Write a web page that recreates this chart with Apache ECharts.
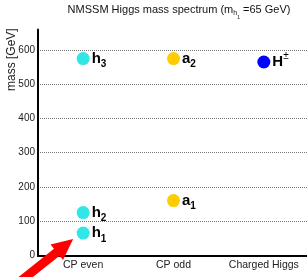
<!DOCTYPE html>
<html>
<head>
<meta charset="utf-8">
<script src="https://cdn.jsdelivr.net/npm/echarts@6/dist/echarts.min.js"></script>
<style>
  html, body { margin: 0; padding: 0; background: #fff; }
  #chart { width: 307px; height: 277px; }
</style>
</head>
<body>
<div id="chart"></div>
<script>
// mass spectrum
const categories = ['CP even', 'CP odd', 'Charged Higgs']
const evenMass = [65, 125, 575]
const evenIdx = ['1', '2', '3']
const oddMass = [160, 575]
const oddIdx = ['1', '2']
const chargedMass = [565]
const yTicks = [0, 100, 200, 300, 400, 500, 600]

const font = 'Liberation Sans'

const labelRich = {
  b: { fontFamily: font, fontSize: 15, fontWeight: 'bold', color: '#000' },
  s: { fontFamily: font, fontSize: 10, fontWeight: 'bold', color: '#000', padding: [12, 0, 0, 0] },
  u: { fontFamily: font, fontSize: 10, color: '#000', padding: [0, 0, 12, 0] },
}

function pointLabel(fmt) {
  return {
    show: true,
    position: 'right',
    distance: 2,
    formatter: fmt,
    rich: labelRich,
  }
}

const evenData = evenMass.map((v, i) => ({ value: ['CP even', v], idx: evenIdx[i] }))
const oddData = oddMass.map((v, i) => ({ value: ['CP odd', v], idx: oddIdx[i] }))
const chargedData = chargedMass.map(v => ({ value: ['Charged Higgs', v] }))

const option = {
  animation: false,
  title: {
    text: '{n|NMSSM Higgs mass spectrum (m}{h|h}{o|1}{n| =65 GeV)}',
    left: 174,
    textAlign: 'center',
    top: -6,
    textStyle: {
      fontWeight: 'normal',
      rich: {
        n: { fontFamily: font, fontSize: 11, fontWeight: 'normal', color: '#111' },
        h: { fontFamily: font, fontSize: 7, fontWeight: 'normal', color: '#111', padding: [8, 0, 0, 0] },
        o: { fontFamily: font, fontSize: 5, fontWeight: 'normal', color: '#111', padding: [16, 0, 0, 0] },
      },
    },
  },
  grid: { left: 38, top: 29.5, right: -2, bottom: 21.7, outerBoundsMode: 'none', containLabel: false },
  xAxis: [
    {
      type: 'category',
      data: categories,
      boundaryGap: true,
      axisLine: { lineStyle: { color: '#1a1a3a', width: 2 } },
      axisTick: { inside: true, length: 6, alignWithLabel: true, lineStyle: { color: '#000' } },
      axisLabel: { interval: 0, fontFamily: font, fontSize: 10.5, color: '#222', margin: 4 },
      splitLine: { show: false },
    },
    {
      type: 'category',
      data: categories,
      position: 'top',
      axisLine: { lineStyle: { color: '#000', width: 2 } },
      axisTick: { show: false },
      axisLabel: { show: false },
    },
  ],
  yAxis: [
    {
      type: 'value',
      min: 0,
      max: 660,
      interval: 100,
      axisLine: { show: true, lineStyle: { color: '#000', width: 2 } },
      axisTick: { inside: true, length: 7, lineStyle: { color: '#000' } },
      axisLabel: {
        fontFamily: font, fontSize: 10, color: '#222', margin: 3,
        formatter: v => (yTicks.includes(v) ? String(v) : ''),
      },
      splitLine: {
        show: true, showMinLine: false, showMaxLine: false,
        lineStyle: { color: '#777', type: 'dotted', width: 1 },
      },
    },
    {
      type: 'value',
      min: 0,
      max: 660,
      interval: 20,
      position: 'left',
      axisLine: { show: false },
      axisTick: { inside: true, length: 4, lineStyle: { color: '#000' } },
      axisLabel: { show: false },
      splitLine: { show: false },
    },
  ],
  graphic: [{
    type: 'text',
    x: 12,
    y: 91,
    rotation: Math.PI / 2,
    style: {
      text: 'mass [GeV]',
      font: '11.5px "Liberation Sans"',
      fill: '#222',
      align: 'left',
      verticalAlign: 'middle',
    },
  }],
  series: [
    {
      type: 'scatter',
      symbolSize: 13,
      itemStyle: { color: '#30e6e6', opacity: 1 },
      data: evenData,
      label: pointLabel(p => `{b|h}{s|${p.data.idx}}`),
    },
    {
      type: 'scatter',
      symbolSize: 13,
      itemStyle: { color: '#ffcc00', opacity: 1 },
      data: oddData,
      label: pointLabel(p => `{b|a}{s|${p.data.idx}}`),
    },
    {
      type: 'scatter',
      symbolSize: 13,
      itemStyle: { color: '#0000ff', opacity: 1 },
      data: chargedData,
      label: pointLabel(() => '{b|H}{u|±}'),
    },
  ],
}

const chart = echarts.init(document.getElementById('chart'), null, { renderer: 'canvas' })
chart.setOption(option)

// red arrow pointing at the lightest CP-even state
const h1 = chart.convertToPixel({ seriesIndex: 0 }, evenData[0].value)
const tip = [h1[0] - 10, h1[1] + 6]
const ux = 0.781, uy = -0.625   // direction tail -> tip
const nx = 0.625, ny = 0.781    // normal
const headLen = 21, headHalf = 10, shaftHalf = 4.5, shaftLen = 75
const base = [tip[0] - ux * headLen, tip[1] - uy * headLen]
const tail = [tip[0] - ux * shaftLen, tip[1] - uy * shaftLen]
chart.setOption({
  graphic: [{}, {
    type: 'polygon',
    z: 100,
    shape: {
      points: [
        tip,
        [base[0] + nx * headHalf, base[1] + ny * headHalf],
        [base[0] + nx * shaftHalf, base[1] + ny * shaftHalf],
        [tail[0] + nx * shaftHalf, tail[1] + ny * shaftHalf],
        [tail[0] - nx * shaftHalf, tail[1] - ny * shaftHalf],
        [base[0] - nx * shaftHalf, base[1] - ny * shaftHalf],
        [base[0] - nx * headHalf, base[1] - ny * headHalf],
      ],
    },
    style: { fill: '#ff0000' },
  }],
})
</script>
</body>
</html>
